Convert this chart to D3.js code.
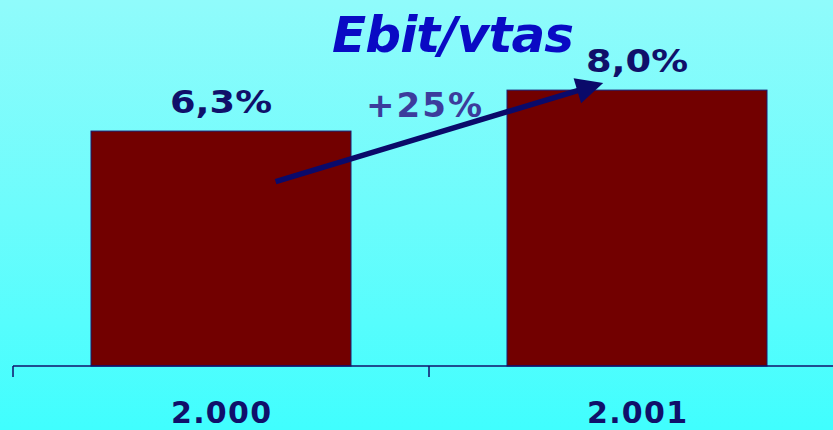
<!DOCTYPE html>
<html><head><meta charset="utf-8">
<script src="https://cdn.jsdelivr.net/npm/d3@7"></script>
<style>html,body{margin:0;padding:0;overflow:hidden;}svg{display:block;}</style>
</head><body>
<script>
const categories = ["2.000", "2.001"];
const values = [6.3, 8.0];
const valueLabels = ["6,3%", "8,0%"];
const titleText = "Ebit/vtas";
const changeLabel = "+25%";

const W = 833, H = 430;
const FONT = "DejaVu Sans, Verdana, sans-serif";
const svg = d3.select("body").append("svg").attr("width", W).attr("height", H);

const defs = svg.append("defs");
const grad = defs.append("linearGradient").attr("id", "bg").attr("x1", 0).attr("y1", 0).attr("x2", 0).attr("y2", 1);
grad.append("stop").attr("offset", "0%").attr("stop-color", "#90fbfb");
grad.append("stop").attr("offset", "50%").attr("stop-color", "#6cfcfc");
grad.append("stop").attr("offset", "100%").attr("stop-color", "#40fefe");
svg.append("rect").attr("width", W).attr("height", H).attr("fill", "url(#bg)");

const x = d3.scaleBand().domain(categories).range([13, 845]).paddingInner(0.375).paddingOuter(0.1875);
const y = d3.scaleLinear().domain([-3.45, 11.74]).range([366, 0]);

const navy = "#10106a";

// bars
svg.selectAll("rect.bar").data(values).join("rect").attr("class", "bar")
  .attr("x", (d, i) => x(categories[i]))
  .attr("width", x.bandwidth())
  .attr("y", d => y(d))
  .attr("height", d => y(y.domain()[0]) - y(d))
  .attr("fill", "#720000").attr("stroke", "#1a1a70").attr("stroke-width", 1);

// axis
const base = y(y.domain()[0]);
const axisG = svg.append("g");
axisG.append("line").attr("x1", x.range()[0]).attr("x2", x.range()[1]).attr("y1", base).attr("y2", base)
  .attr("stroke", navy).attr("stroke-width", 1.5);
const tickPos = d3.range(categories.length + 1).map(i => x.range()[0] + i * x.step());
axisG.selectAll("line.tick").data(tickPos).join("line").attr("class", "tick")
  .attr("x1", d => d).attr("x2", d => d).attr("y1", base).attr("y2", base + 11)
  .attr("stroke", navy).attr("stroke-width", 1.5);

// category labels
svg.selectAll("text.cat").data(categories).join("text").attr("class", "cat")
  .attr("x", d => x(d) + x.bandwidth() / 2)
  .attr("y", 423)
  .attr("text-anchor", "middle")
  .attr("font-family", FONT)
  .attr("font-weight", "bold").attr("font-size", 30)
  .attr("textLength", 100).attr("lengthAdjust", "spacing")
  .attr("fill", navy)
  .text(d => d);

// value labels
svg.selectAll("text.val").data(values).join("text").attr("class", "val")
  .attr("x", (d, i) => x(categories[i]) + x.bandwidth() / 2)
  .attr("y", d => y(d) - 18)
  .attr("text-anchor", "middle")
  .attr("font-family", FONT)
  .attr("font-weight", "bold").attr("font-size", 32)
  .attr("textLength", 102).attr("lengthAdjust", "spacingAndGlyphs")
  .attr("fill", navy)
  .text((d, i) => valueLabels[i]);

// title
svg.append("text").attr("x", 453).attr("y", 52).attr("text-anchor", "middle")
  .attr("font-family", FONT)
  .attr("font-weight", "bold").attr("font-style", "italic").attr("font-size", 50)
  .attr("textLength", 242).attr("lengthAdjust", "spacing")
  .attr("fill", "#0a0ac4").text(titleText);

// arrow (data-anchored)
const x0 = x(categories[0]) + x.bandwidth() * 0.71, y0 = y(4.2);
const x1 = x(categories[1]) + x.bandwidth() * 0.37, y1 = y(8.3);
const ang = Math.atan2(y1 - y0, x1 - x0);
const headLen = 27, headW = 13;
const bx = x1 - headLen * Math.cos(ang), by = y1 - headLen * Math.sin(ang);
svg.append("line").attr("x1", x0).attr("y1", y0).attr("x2", bx + 2 * Math.cos(ang)).attr("y2", by + 2 * Math.sin(ang))
  .attr("stroke", "#0a0a6a").attr("stroke-width", 5.5);
const px = -Math.sin(ang), py = Math.cos(ang);
svg.append("polygon")
  .attr("points", [[x1, y1], [bx + px * headW, by + py * headW], [bx - px * headW, by - py * headW]].map(p => p.join(",")).join(" "))
  .attr("fill", "#0a0a6a");

// change label
svg.append("text").attr("x", 424).attr("y", 117).attr("text-anchor", "middle")
  .attr("font-family", FONT)
  .attr("font-weight", "bold").attr("font-size", 34)
  .attr("textLength", 116).attr("lengthAdjust", "spacing")
  .attr("fill", "#3c3c9c").text(changeLabel);
</script>
</body></html>
